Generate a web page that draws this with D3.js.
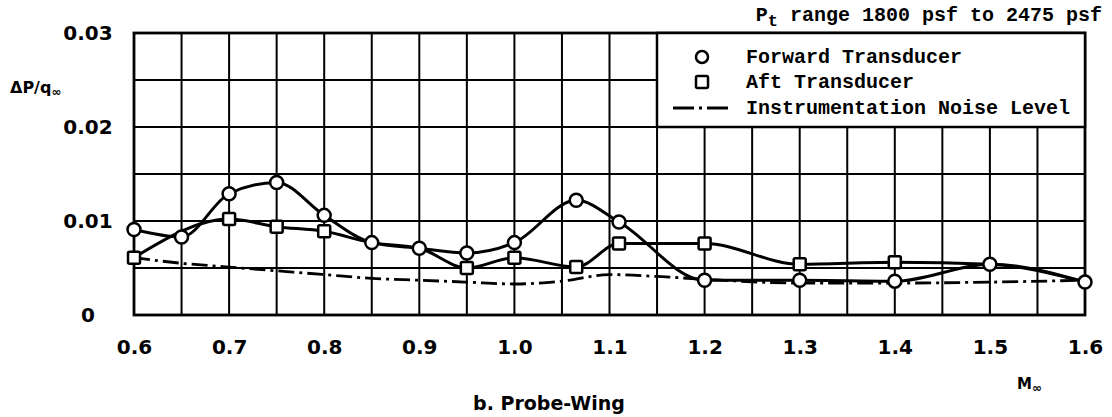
<!DOCTYPE html>
<html><head><meta charset="utf-8">
<script src="https://cdn.jsdelivr.net/npm/d3@7"></script>
<style>
html,body{margin:0;padding:0;background:#fff;}
svg{display:block;}
</style></head>
<body>
<svg id="chart" width="1112" height="417"></svg>
<script>
// ---- data ----
const xTicks = [0.6,0.7,0.8,0.9,1.0,1.1,1.2,1.3,1.4,1.5,1.6];
const xTickLabels = ["0.6","0.7","0.8","0.9","1.0","1.1","1.2","1.3","1.4","1.5","1.6"];
const yTicks = [0,0.01,0.02,0.03];
const yTickLabels = ["0","0.01","0.02","0.03"];

const fwdMach = [0.6,0.65,0.7,0.75,0.8,0.85,0.9,0.95,1.0,1.065,1.11,1.2,1.3,1.4,1.5,1.6];
const fwdVals = [0.0091,0.0083,0.0129,0.0141,0.0106,0.0077,0.0071,0.0066,0.0077,0.0122,0.0099,0.0037,0.0037,0.0036,0.0054,0.0035];

const aftMach = [0.6,0.7,0.75,0.8,0.85,0.9,0.95,1.0,1.065,1.11,1.2,1.3,1.4,1.5,1.6];
const aftVals = [0.0061,0.0102,0.0094,0.0089,0.0077,0.0071,0.0050,0.0061,0.0051,0.0076,0.0076,0.0054,0.0056,0.0054,0.0035];
const aftMarkerShown = [true,true,true,true,false,false,true,true,true,true,true,true,true,false,false];

const noiseMach = [0.6,0.65,0.7,0.75,0.8,0.85,0.9,0.95,1.0,1.05,1.1,1.15,1.2,1.3,1.4,1.5,1.6];
const noiseVals = [0.0061,0.0055,0.0051,0.0047,0.0043,0.0039,0.0037,0.0035,0.0033,0.0036,0.0043,0.0041,0.0038,0.0034,0.0034,0.0035,0.0037];

const legendLabels = ["Forward Transducer","Aft Transducer","Instrumentation Noise Level"];

// ---- layout ----
const svg = d3.select("#chart");
const L = 134, R = 1085, T = 33, B = 315;
const x = d3.scaleLinear().domain([0.6,1.6]).range([L,R]);
const y = d3.scaleLinear().domain([0,0.03]).range([B,T]);

const gridX = d3.range(0,21).map(i => 0.6 + i*0.05);
const gridY = d3.range(0,7).map(i => i*0.005);

const grid = svg.append("g");
grid.selectAll("line.v").data(gridX).join("line")
  .attr("x1", d => x(d)).attr("x2", d => x(d))
  .attr("y1", T).attr("y2", B)
  .attr("stroke","#000").attr("stroke-width",2);
grid.selectAll("line.h").data(gridY).join("line")
  .attr("y1", d => y(d)).attr("y2", d => y(d))
  .attr("x1", L).attr("x2", R)
  .attr("stroke","#000").attr("stroke-width",2);
svg.append("rect").attr("x",L).attr("y",T).attr("width",R-L).attr("height",B-T)
  .attr("fill","none").attr("stroke","#000").attr("stroke-width",2.8);

// axis labels via d3 axis
const xAxis = d3.axisBottom(x).tickValues(xTicks).tickFormat((d,i)=>xTickLabels[i]).tickSize(0).tickPadding(0);
const gx = svg.append("g").attr("transform",`translate(0,${B+39})`).call(xAxis);
gx.select(".domain").remove();
gx.selectAll("text").attr("font-family","DejaVu Sans").attr("font-weight","bold")
  .attr("font-size",20).attr("fill","#000").attr("dy","0").attr("y",0).attr("dominant-baseline","auto");

const ylab = svg.append("g");
ylab.selectAll("text").data(yTicks).join("text")
  .attr("x",88).attr("y",d => y(d)+7)
  .attr("text-anchor","middle")
  .attr("font-family","DejaVu Sans").attr("font-weight","bold").attr("font-size",20)
  .text((d,i)=>yTickLabels[i]);

// y axis title
const yt = svg.append("text").attr("x",10).attr("y",93)
  .attr("font-family","DejaVu Sans").attr("font-weight","bold").attr("font-size",16);
yt.append("tspan").text("ΔP/q");
yt.append("tspan").attr("font-size",12).attr("dy",3).text("∞");

// x axis title
const xt = svg.append("text").attr("x",1017).attr("y",389)
  .attr("font-family","DejaVu Sans").attr("font-weight","bold").attr("font-size",15);
xt.append("tspan").text("M");
xt.append("tspan").attr("font-size",12).attr("dy",3).text("∞");

// caption
svg.append("text").attr("x",549).attr("y",410).attr("text-anchor","middle")
  .attr("font-family","DejaVu Sans").attr("font-weight","bold").attr("font-size",19)
  .text("b. Probe-Wing");

// top note
const note = svg.append("text").attr("x",1102).attr("y",21).attr("text-anchor","end")
  .attr("font-family","Liberation Mono").attr("font-weight","bold").attr("font-size",20);
note.append("tspan").text("P");
note.append("tspan").attr("dy",5).attr("font-size",17).text("t");
note.append("tspan").attr("dy",-5).text(" range 1800 psf to 2475 psf");

// ---- data lines ----
const curve = d3.curveMonotoneX;
const fwdData = fwdMach.map((m,i)=>({m, v:fwdVals[i]}));
const aftData = aftMach.map((m,i)=>({m, v:aftVals[i], show:aftMarkerShown[i]}));
const noiseData = noiseMach.map((m,i)=>({m, v:noiseVals[i]}));
const line = d3.line().x(d=>x(d.m)).y(d=>y(d.v)).curve(curve);

svg.append("path").datum(noiseData).attr("d",line)
  .attr("fill","none").attr("stroke","#000").attr("stroke-width",2.8)
  .attr("stroke-dasharray","16,5,3,5");
svg.append("path").datum(aftData).attr("d",line)
  .attr("fill","none").attr("stroke","#000").attr("stroke-width",3);
svg.append("path").datum(fwdData).attr("d",line)
  .attr("fill","none").attr("stroke","#000").attr("stroke-width",3);

// markers
const sq = 12;
svg.append("g").selectAll("rect").data(aftData.filter(d=>d.show)).join("rect")
  .attr("x",d=>x(d.m)-sq/2).attr("y",d=>y(d.v)-sq/2)
  .attr("width",sq).attr("height",sq).attr("rx",1.5)
  .attr("fill","#fff").attr("stroke","#000").attr("stroke-width",2.5);
svg.append("g").selectAll("circle").data(fwdData).join("circle")
  .attr("cx",d=>x(d.m)).attr("cy",d=>y(d.v)).attr("r",6.5)
  .attr("fill","#fff").attr("stroke","#000").attr("stroke-width",2.5);

// ---- legend ----
const lg = svg.append("g");
lg.append("rect").attr("x",657).attr("y",T).attr("width",R-657).attr("height",y(0.02)-T)
  .attr("fill","#fff").attr("stroke","#000").attr("stroke-width",2.5);
const rows = [57,82,108];
lg.append("circle").attr("cx",702).attr("cy",rows[0]).attr("r",6)
  .attr("fill","#fff").attr("stroke","#000").attr("stroke-width",2.5);
lg.append("rect").attr("x",702-6).attr("y",rows[1]-6).attr("width",12).attr("height",12).attr("rx",1.5)
  .attr("fill","#fff").attr("stroke","#000").attr("stroke-width",2.5);
lg.append("line").attr("x1",673).attr("x2",729).attr("y1",rows[2]).attr("y2",rows[2])
  .attr("stroke","#000").attr("stroke-width",2.8).attr("stroke-dasharray","21,5,3,5");
lg.selectAll("text").data(legendLabels).join("text")
  .attr("x",746).attr("y",(d,i)=>rows[i]+6)
  .attr("font-family","Liberation Mono").attr("font-weight","bold").attr("font-size",20)
  .text(d=>d);
</script>
</body></html>
